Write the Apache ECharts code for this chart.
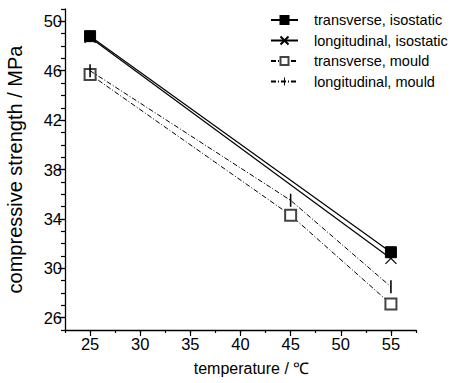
<!DOCTYPE html>
<html>
<head>
<meta charset="utf-8">
<script src="https://cdn.jsdelivr.net/npm/echarts@6/dist/echarts.min.js"></script>
<style>
  html, body { margin: 0; padding: 0; background: #fff; }
  #chart { width: 453px; height: 383px; }
</style>
</head>
<body>
<div id="chart"></div>
<script>
// temperatures (°C)
const isoTemps = [25, 55]
const mouldTemps = [25, 45, 55]

// compressive strength (MPa)
const transIso = [48.8, 31.3]
const longIso = [48.7, 30.8]
const transMould = [45.7, 34.3, 27.1]
const longMould = [46.0, 35.5, 28.5]

const xTicks = [25, 30, 35, 40, 45, 50, 55]
const yTicks = [26, 30, 34, 38, 42, 46, 50]

const seriesNames = [
  'transverse, isostatic',
  'longitudinal, isostatic',
  'transverse, mould',
  'longitudinal, mould',
]

const font = '"Liberation Sans", Arial, sans-serif'
const dashDot = [5, 2, 1, 2]
// thin vertical bar; tiny corner specks keep the box square so it is not stretched
const barSymbol = 'path://M0,0h0.01v0.01h-0.01Z M10,10h0.01v0.01h-0.01Z M4.4,0h1.2v10h-1.2Z'
const crossSymbol = 'path://M0,0L10,10M10,0L0,10'

const pairs = (xs, ys) => xs.map((x, i) => [x, ys[i]])

const chart = echarts.init(document.getElementById('chart'), null, { renderer: 'svg' })

const baseX = {
  type: 'value',
  min: 22.5,
  max: 57.5,
  position: 'bottom',
  splitLine: { show: false },
}
const baseY = {
  type: 'value',
  min: 25,
  max: 51,
  position: 'left',
  splitLine: { show: false },
}

const option = {
  backgroundColor: '#fff',
  animation: false,
  grid: {
    left: 65,
    right: 37,
    top: 9,
    bottom: 53,
    containLabel: false,
    outerBoundsMode: 'none',
  },
  legend: {
    orient: 'vertical',
    left: 270,
    top: 11,
    padding: 0,
    itemWidth: 27,
    itemHeight: 10,
    itemGap: 2.5,
    data: seriesNames,
    textStyle: { color: '#000', fontFamily: font, fontSize: 14.5, lineHeight: 18, padding: [0, 0, 0, 11] },
  },
  xAxis: [
    {
      ...baseX,
      name: 'temperature / ℃',
      nameLocation: 'middle',
      nameGap: 30,
      nameMoveOverlap: false,
      nameTextStyle: { color: '#000', fontFamily: font, fontSize: 16, padding: [0, 0, 0, 22] },
      axisLine: { lineStyle: { color: '#000', width: 1.3 } },
      axisTick: { inside: false, length: 6, customValues: xTicks, lineStyle: { color: '#000', width: 1.2 } },
      axisLabel: { customValues: xTicks, color: '#000', fontFamily: font, fontSize: 16.5, margin: 5 },
    },
    {
      ...baseX,
      interval: 2.5,
      axisLine: { show: false },
      axisTick: { length: 3, lineStyle: { color: '#000', width: 1.2 } },
      axisLabel: { show: false },
    },
  ],
  yAxis: [
    {
      ...baseY,
      name: 'compressive strength / MPa',
      nameLocation: 'middle',
      nameRotate: 90,
      nameGap: 40,
      nameMoveOverlap: false,
      nameTextStyle: { color: '#000', fontFamily: font, fontSize: 20 },
      axisLine: { lineStyle: { color: '#000', width: 1.3 } },
      axisTick: { inside: false, length: 7, customValues: yTicks, lineStyle: { color: '#000', width: 1.2 } },
      axisLabel: { customValues: yTicks, color: '#000', fontFamily: font, fontSize: 16.5, margin: 3 },
    },
    {
      ...baseY,
      interval: 1,
      axisLine: { show: false },
      axisTick: { length: 4, lineStyle: { color: '#000', width: 1.2 } },
      axisLabel: { show: false },
    },
  ],
  series: [
    {
      name: seriesNames[0],
      type: 'line',
      data: pairs(isoTemps, transIso),
      symbol: 'rect',
      symbolSize: 11,
      lineStyle: { color: '#000', width: 1.2 },
      itemStyle: { color: '#000', borderColor: '#000', borderWidth: 1 },
      z: 4,
    },
    {
      name: seriesNames[1],
      type: 'line',
      data: pairs(isoTemps, longIso),
      symbol: crossSymbol,
      symbolSize: 11,
      lineStyle: { color: '#000', width: 1.2 },
      itemStyle: { color: '#000', borderColor: '#000', borderWidth: 1.2 },
      z: 3,
    },
    {
      name: seriesNames[2],
      type: 'line',
      data: pairs(mouldTemps, transMould),
      symbol: 'emptyRect',
      symbolSize: 11,
      lineStyle: { color: '#000', width: 1, type: dashDot },
      itemStyle: { color: '#444', borderColor: '#444', borderWidth: 1.2 },
      z: 3,
    },
    {
      name: seriesNames[3],
      type: 'line',
      data: pairs(mouldTemps, longMould),
      symbol: barSymbol,
      symbolSize: 13,
      lineStyle: { color: '#000', width: 1, type: dashDot },
      itemStyle: { color: '#000', borderWidth: 0 },
      z: 5,
    },
  ],
}

chart.setOption(option)
</script>
</body>
</html>
